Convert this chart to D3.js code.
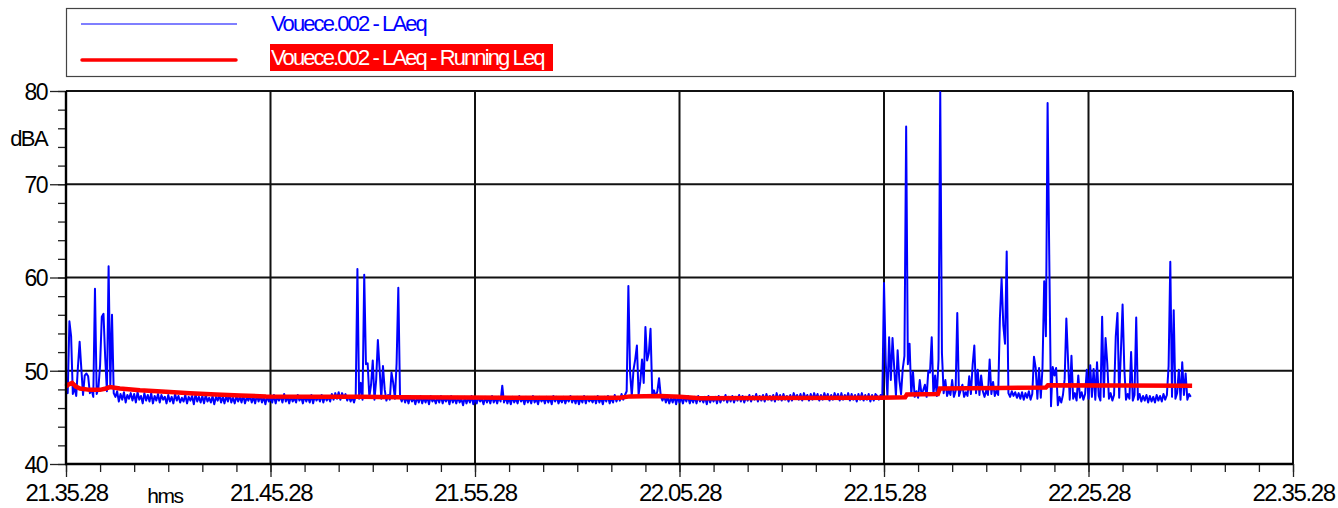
<!DOCTYPE html>
<html>
<head>
<meta charset="utf-8">
<script src="https://cdn.jsdelivr.net/npm/d3@7"></script>
<style>
  body { margin: 0; background: #fff; }
  svg text { font-family: "Liberation Sans", Arial, sans-serif; }
</style>
</head>
<body>
<div id="chart-container"></div>
<script>
/* CONSTANTS AND GLOBALS */
const width = 1338,
  height = 508,
  margin = { top: 91, bottom: 44, left: 66, right: 45 };

/* DATA */
const seriesNames = ["Vouece.002 - LAeq", "Vouece.002 - LAeq - Running Leq"];
const timeLabels = ["21.35.28", "21.45.28", "21.55.28", "22.05.28", "22.15.28", "22.25.28", "22.35.28"];
const timeTicks = [0, 600, 1200, 1800, 2400, 3000, 3600]; // seconds after 21.35.28
const dbTicks = [40, 50, 60, 70, 80];

// LAeq, one reading every 5 s from 21.35.28
const sampleStep = 5;
const laeq = [
  48.3, 47.6, 55.3, 53.7, 47.5, 48.2, 47.3, 50.4, 53.1, 50.2,
  47.4, 49.5, 49.7, 49.4, 47.6, 48.0, 47.2, 58.8, 47.5, 48.1,
  50.6, 55.8, 56.1, 51.4, 47.8, 61.2, 48.4, 56.0, 47.6, 47.2,
  47.8, 46.7, 47.5, 46.9, 47.7, 46.6, 47.4, 47.0, 47.6, 46.8,
  47.5, 46.6, 47.7, 46.9, 47.3, 46.5, 47.6, 46.8, 47.4, 46.7,
  47.6, 46.5, 47.3, 46.8, 47.5, 46.6, 47.4, 46.9, 47.2, 46.5,
  47.4, 46.7, 47.2, 46.5, 47.5, 46.8, 47.3, 46.6, 47.1, 46.7,
  47.4, 46.5, 47.2, 46.8, 47.3, 46.4, 47.5, 46.7, 47.2, 46.6,
  47.3, 46.5, 47.4, 46.7, 47.1, 46.6, 47.3, 46.4, 47.2, 46.8,
  47.4, 46.6, 47.2, 46.5, 47.3, 46.7, 47.5, 46.6, 47.1, 46.5,
  47.3, 46.7, 47.2, 46.6, 47.4, 46.5, 47.1, 46.8, 47.3, 46.6,
  47.2, 46.5, 47.4, 46.7, 47.3, 46.6, 47.2, 46.4, 47.3, 46.7,
  47.1, 46.6, 47.4, 46.5, 47.2, 46.8, 47.3, 46.6, 47.5, 46.7,
  47.2, 46.5, 47.3, 46.7, 47.1, 46.6, 47.4, 46.8, 47.2, 46.5,
  47.3, 46.7, 47.2, 46.6, 47.4, 46.5, 47.3, 46.8, 47.2, 46.7,
  47.4, 46.6, 47.3, 46.8, 47.2, 46.7, 47.5, 46.9, 47.6, 47.0,
  47.7, 46.9, 47.6, 47.1, 47.5, 46.8, 47.3, 46.7, 47.2, 46.6,
  47.3, 60.9, 47.0, 48.7, 46.9, 60.3, 50.7, 50.8, 47.2, 48.5,
  51.1, 46.9, 49.0, 53.3, 50.3, 47.0, 50.5, 48.0, 46.8, 47.4,
  46.9, 49.8, 48.7, 47.0, 50.8, 58.9, 47.2, 46.7, 47.3, 46.6,
  47.2, 46.5, 47.3, 46.7, 47.1, 46.4, 47.2, 46.6, 47.3, 46.5,
  47.1, 46.6, 47.2, 46.4, 47.3, 46.7, 47.0, 46.5, 47.2, 46.6,
  47.3, 46.5, 47.1, 46.7, 47.2, 46.4, 47.3, 46.6, 47.1, 46.5,
  47.2, 46.6, 47.0, 46.3, 47.2, 46.5, 47.1, 46.6, 47.3, 46.4,
  47.1, 46.5, 47.2, 46.7, 47.0, 46.4, 47.2, 46.6, 47.1, 46.5,
  47.3, 46.6, 47.1, 46.5, 47.2, 46.7, 48.4, 46.6, 47.2, 46.5,
  47.1, 46.4, 47.2, 46.6, 47.0, 46.5, 47.3, 46.7, 47.1, 46.4,
  47.2, 46.6, 47.1, 46.5, 47.3, 46.6, 47.0, 46.4, 47.2, 46.7,
  47.1, 46.5, 47.2, 46.6, 47.1, 46.4, 47.3, 46.7, 47.2, 46.5,
  47.0, 46.6, 47.2, 46.5, 47.1, 46.7, 47.3, 46.6, 47.1, 46.5,
  47.2, 46.4, 47.1, 46.6, 47.3, 46.5, 47.2, 46.7, 47.0, 46.6,
  47.2, 46.5, 47.3, 46.6, 47.1, 46.4, 47.2, 46.7, 47.3, 46.5,
  47.1, 46.6, 47.4, 46.7, 47.2, 46.8, 47.5, 46.9, 47.4, 47.8,
  59.1, 49.8, 47.3, 50.1, 51.2, 52.7, 47.4, 48.8, 51.2, 48.7,
  54.7, 51.1, 51.9, 54.5, 47.5, 47.9, 47.2, 47.8, 49.2, 47.3,
  46.8, 47.3, 46.6, 47.2, 46.5, 47.1, 46.6, 47.3, 46.4, 47.2,
  46.6, 47.1, 46.5, 47.2, 46.7, 47.3, 46.5, 47.1, 46.6, 47.2,
  46.5, 47.3, 46.7, 47.1, 46.6, 47.2, 46.4, 47.3, 46.6, 47.1,
  46.7, 47.2, 46.5, 47.3, 46.6, 47.1, 46.8, 47.4, 46.6, 47.2,
  46.7, 47.3, 46.6, 47.2, 46.8, 47.4, 46.7, 47.3, 46.6, 47.2,
  46.8, 47.4, 46.7, 47.3, 46.9, 47.5, 46.7, 47.3, 46.8, 47.4,
  46.7, 47.5, 46.9, 47.3, 46.8, 47.4, 46.7, 47.6, 46.9, 47.4,
  46.8, 47.5, 46.9, 47.3, 46.7, 47.4, 46.8, 47.6, 47.0, 47.4,
  46.9, 47.5, 46.8, 47.6, 47.0, 47.4, 46.8, 47.5, 46.9, 47.6,
  47.0, 47.5, 46.8, 47.4, 46.9, 47.6, 47.0, 47.5, 46.8, 47.4,
  46.9, 47.6, 47.0, 47.5, 46.8, 47.6, 46.9, 47.4, 47.0, 47.6,
  46.8, 47.5, 46.9, 47.4, 46.7, 47.5, 46.9, 47.6, 46.8, 47.4,
  46.9, 47.5, 46.7, 47.4, 46.8, 47.5, 47.3, 46.9, 47.4, 47.0,
  59.4, 51.0, 47.2, 53.6, 49.0, 53.5, 50.3, 47.3, 52.2, 49.0,
  47.5, 50.2, 51.6, 76.2, 50.7, 52.9, 47.4, 49.9, 47.2, 47.8,
  47.1, 49.0, 47.5, 47.9, 48.5, 47.2, 50.0, 49.8, 53.6, 47.4,
  49.5, 47.3, 51.2, 79.9, 51.9, 47.6, 49.0, 47.3, 47.9, 47.4,
  49.0, 47.2, 47.8, 56.2, 47.3, 47.9, 48.5, 47.2, 47.7, 47.3,
  49.4, 47.5, 50.6, 52.7, 47.6, 50.1, 47.4, 49.5, 47.8, 47.2,
  47.9, 47.4, 51.2, 47.5, 48.8, 47.3, 47.9, 47.4, 55.6, 59.9,
  54.9, 52.9, 62.8, 47.6, 47.2, 47.8, 47.3, 47.7, 47.1, 47.6,
  47.0, 47.7, 46.9, 47.6, 47.1, 47.8, 46.9, 47.5, 51.5, 50.3,
  47.0, 50.3, 47.1, 50.3, 59.6, 53.7, 78.7, 61.8, 46.2, 50.4,
  49.5, 50.3, 46.3, 47.2, 46.6, 47.4, 49.1, 55.6, 51.1, 46.9,
  51.6, 47.0, 47.6, 46.8, 49.5, 47.1, 47.7, 46.9, 47.5, 50.1,
  47.0, 50.6, 47.2, 50.2, 46.9, 50.9, 47.3, 46.8, 55.8, 47.2,
  53.5, 50.8, 47.0, 47.6, 46.8, 47.4, 53.7, 56.2, 47.1, 52.0,
  57.1, 50.3, 46.9, 47.5, 47.0, 52.0, 46.8, 47.4, 55.7, 46.9,
  47.5, 46.7, 47.3, 46.8, 47.4, 46.6, 47.3, 46.7, 47.2, 46.6,
  47.4, 46.8, 47.3, 46.7, 47.5, 46.9, 47.4, 50.5, 61.7, 47.2,
  56.5, 47.0, 47.6, 50.1, 46.9, 50.9, 47.4, 49.7, 46.9, 47.5,
  47.2
];

// running Leq, read at the points where it bends or steps
const runLeqSec = [0, 6, 18, 29, 41, 70, 100, 117, 129, 158, 217, 293, 364, 440, 511, 587, 745, 862, 980,
  1174, 1449, 1625, 1655, 1743, 1801, 1860, 2388, 2462, 2467, 2558, 2564, 2740, 2875, 2881, 3304];
const runLeqDb = [48.3, 48.5, 48.7, 48.3, 48.1, 47.95, 47.95, 48.1, 48.25, 48.1, 47.9, 47.75, 47.6, 47.45, 47.35,
  47.25, 47.2, 47.2, 47.15, 47.12, 47.1, 47.1, 47.25, 47.3, 47.2, 47.05, 47.1, 47.15, 47.45, 47.5, 48.1,
  48.15, 48.2, 48.45, 48.4];

/* SCALES */
const xScale = d3.scaleLinear()
  .domain([0, 3600])
  .range([margin.left, width - margin.right]);

const yScale = d3.scaleLinear()
  .domain([40, 80])
  .range([height - margin.bottom, margin.top]);

/* SVG */
const svg = d3.select("#chart-container")
  .append("svg")
  .attr("width", width)
  .attr("height", height);

// + GRID
const grid = svg.append("g").attr("class", "grid");
grid.selectAll(".vgrid")
  .data(timeTicks)
  .join("line")
  .attr("x1", d => xScale(d)).attr("x2", d => xScale(d))
  .attr("y1", yScale(80)).attr("y2", yScale(40))
  .attr("stroke", "#111").attr("stroke-width", 2);
grid.selectAll(".hgrid")
  .data(dbTicks)
  .join("line")
  .attr("x1", xScale(0)).attr("x2", xScale(3600))
  .attr("y1", d => yScale(d)).attr("y2", d => yScale(d))
  .attr("stroke", "#111").attr("stroke-width", 2);

// + AXES
const yMinor = d3.axisLeft(yScale).tickValues(d3.range(40, 81, 2)).tickSize(8).tickFormat("");
const yMajor = d3.axisLeft(yScale).tickValues(dbTicks).tickSize(16).tickPadding(3);
const xMinor = d3.axisBottom(xScale).tickValues(d3.range(0, 3601, 100)).tickSize(8).tickFormat("");
const xMajor = d3.axisBottom(xScale).tickValues(timeTicks).tickSize(13).tickPadding(7)
  .tickFormat((d, i) => timeLabels[i]);

svg.append("g").attr("class", "yAxis").attr("transform", `translate(${margin.left},0)`).call(yMinor);
svg.append("g").attr("class", "yAxis").attr("transform", `translate(${margin.left},0)`).call(yMajor);
svg.append("g").attr("class", "xAxis").attr("transform", `translate(0,${height - margin.bottom})`).call(xMinor);
svg.append("g").attr("class", "xAxis").attr("transform", `translate(0,${height - margin.bottom})`).call(xMajor);

svg.selectAll(".domain").remove();
svg.selectAll(".tick line").attr("stroke", "#222").attr("stroke-width", 1.3);
svg.selectAll(".tick text").attr("fill", "#000");
svg.selectAll(".yAxis .tick text")
  .attr("font-size", 23)
  .style("letter-spacing", "-1.6px")
  .attr("dy", "0.36em");
svg.selectAll(".xAxis .tick text")
  .attr("font-size", 24)
  .style("letter-spacing", "-1.4px");

svg.append("text")
  .attr("x", 47).attr("y", 146)
  .attr("text-anchor", "end")
  .attr("font-size", 22)
  .style("letter-spacing", "-1.6px")
  .text("dBA");

svg.append("text")
  .attr("x", 165).attr("y", 503)
  .attr("text-anchor", "middle")
  .attr("font-size", 21)
  .style("letter-spacing", "-1.4px")
  .text("hms");

// + LINES
const lineGen = d3.line()
  .x((d, i) => xScale(i * sampleStep))
  .y(d => yScale(d));

svg.append("path")
  .datum(laeq)
  .attr("fill", "none")
  .attr("stroke", "#0000ff")
  .attr("stroke-width", 2)
  .attr("stroke-linejoin", "round")
  .attr("d", lineGen);

const runLine = d3.line()
  .x(d => xScale(d[0]))
  .y(d => yScale(d[1]));

svg.append("path")
  .datum(runLeqSec.map((s, i) => [s, runLeqDb[i]]))
  .attr("fill", "none")
  .attr("stroke", "#ff0000")
  .attr("stroke-width", 4.5)
  .attr("d", runLine);

// axis lines on top
svg.append("line")
  .attr("x1", xScale(0)).attr("x2", xScale(0))
  .attr("y1", yScale(80)).attr("y2", yScale(40) + 1)
  .attr("stroke", "#000").attr("stroke-width", 2.4);
svg.append("line")
  .attr("x1", xScale(0) - 1).attr("x2", xScale(3600))
  .attr("y1", yScale(40)).attr("y2", yScale(40))
  .attr("stroke", "#000").attr("stroke-width", 2.4);

// + LEGEND
const legend = svg.append("g").attr("class", "legend");
legend.append("rect")
  .attr("x", 66.5).attr("y", 8.5)
  .attr("width", 1229).attr("height", 68)
  .attr("fill", "#fff").attr("stroke", "#444").attr("stroke-width", 1.2);

legend.append("line")
  .attr("x1", 81).attr("x2", 237).attr("y1", 24).attr("y2", 24)
  .attr("stroke", "#0000ff").attr("stroke-width", 1.2);
legend.append("text")
  .attr("x", 271).attr("y", 31)
  .attr("font-size", 22)
  .style("letter-spacing", "-1.9px")
  .attr("fill", "#0000ff")
  .text(seriesNames[0]);

legend.append("line")
  .attr("x1", 82).attr("x2", 236).attr("y1", 60).attr("y2", 60)
  .attr("stroke", "#ff0000").attr("stroke-width", 3.5)
  .attr("stroke-linecap", "round");
legend.append("rect")
  .attr("x", 270).attr("y", 44)
  .attr("width", 283).attr("height", 27)
  .attr("fill", "#ff0000");
legend.append("text")
  .attr("x", 271).attr("y", 65)
  .attr("font-size", 22)
  .style("letter-spacing", "-1.9px")
  .attr("fill", "#fff")
  .text(seriesNames[1]);
</script>
</body>
</html>
